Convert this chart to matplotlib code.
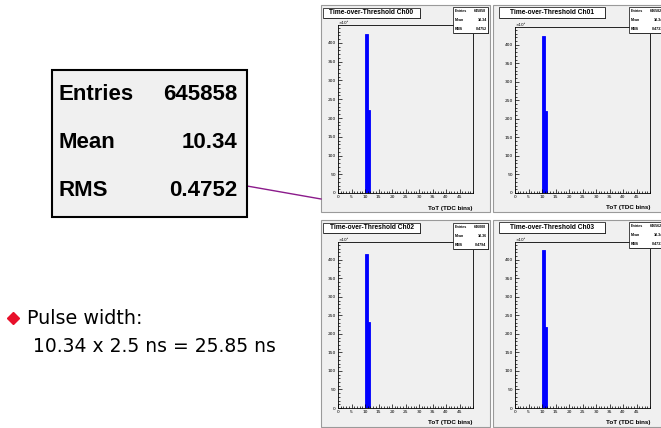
import matplotlib.pyplot as plt
from matplotlib.patches import Rectangle
from matplotlib.lines import Line2D
from matplotlib.ticker import MultipleLocator

# data (counts in units of 10^3)
channels = ["Ch00", "Ch01", "Ch02", "Ch03"]
tot_bins = [10, 11]
counts = {
    "Ch00": [425, 222],
    "Ch01": [425, 222],
    "Ch02": [415, 231],
    "Ch03": [427, 219],
}
entries = [645858, 646582, 646008, 646562]
means = [10.34, 10.34, 10.36, 10.34]
rms = [0.4752, 0.4737, 0.4794, 0.4737]

x_range = (0, 50)
y_range = (0, 448)

W, H = 661, 428
PAD_GRAY = "#f0f0f0"


def box(x0, y0, x1, y1):
    """pixel box (top-left origin) -> figure fraction [l, b, w, h]"""
    return [x0 / W, 1 - y1 / H, (x1 - x0) / W, (y1 - y0) / H]


def fig_rect(fig, x0, y0, x1, y1, **kw):
    l, b, w, h = box(x0, y0, x1, y1)
    r = Rectangle((l, b), w, h, transform=fig.transFigure, **kw)
    fig.patches.append(r)
    return r


fig = plt.figure(figsize=(W / 100, H / 100), dpi=100)
fig.patch.set_facecolor("white")

# pad / frame geometry in pixels
pads = [(321, 5, 490, 212), (493, 5, 664, 212), (321, 220, 490, 427), (493, 220, 664, 427)]
frames = [(338, 25, 473, 193), (515, 27, 650, 193), (338, 242, 473, 408), (515, 242, 650, 408)]
titles = [(323, 8, 420, 18), (499, 7, 605, 18), (323, 223, 420, 233), (499, 222, 605, 233)]
statboxes = [(453, 7, 488, 33), (629, 7, 664, 33), (453, 223, 488, 249), (629, 222, 664, 248)]

for i, ch in enumerate(channels):
    fig_rect(fig, *pads[i], facecolor=PAD_GRAY, edgecolor="#9a9a9a", lw=0.8, zorder=-2)

    ax = fig.add_axes(box(*frames[i]))
    ax.set_facecolor(PAD_GRAY)
    ax.bar(tot_bins, counts[ch], width=1, align="edge", color="#0000ff",
           edgecolor="#0000ff", lw=0.6)
    ax.set_xlim(*x_range)
    ax.set_ylim(*y_range)
    ax.xaxis.set_major_locator(MultipleLocator(5))
    ax.xaxis.set_minor_locator(MultipleLocator(1))
    ax.yaxis.set_major_locator(MultipleLocator(50))
    ax.yaxis.set_minor_locator(MultipleLocator(10))
    ax.tick_params(which="both", direction="in", width=0.5, labelsize=3.2, pad=1.5)
    ax.tick_params(which="major", length=3)
    ax.tick_params(which="minor", length=1.5)
    ax.set_xticks(range(0, 50, 5))
    for sp in ax.spines.values():
        sp.set_linewidth(0.6)
    ax.text(0.0, 1.0, "×10³", transform=ax.transAxes, fontsize=3.0,
            ha="left", va="bottom")
    ax.text(1.0, -0.075, "ToT (TDC bins)", transform=ax.transAxes, fontsize=4.5,
            fontweight="bold", ha="right", va="top", family="Liberation Sans")

    # title box with shadow
    tx0, ty0, tx1, ty1 = titles[i]
    fig_rect(fig, tx0 + 1.2, ty0 + 1.2, tx1 + 1.2, ty1 + 1.2, facecolor="#404040", lw=0, zorder=5)
    fig_rect(fig, *titles[i], facecolor="white", edgecolor="black", lw=0.5, zorder=6)
    fig.text((tx0 + tx1) / 2 / W, 1 - (ty0 + ty1) / 2 / H, "Time-over-Threshold " + ch,
             ha="center", va="center", fontsize=4.8, fontweight="bold",
             family="Liberation Sans", zorder=7)

    # stats box with shadow
    sx0, sy0, sx1, sy1 = statboxes[i]
    fig_rect(fig, sx0 + 1.2, sy0 + 1.2, sx1 + 1.2, sy1 + 1.2, facecolor="#404040", lw=0, zorder=5)
    fig_rect(fig, *statboxes[i], facecolor="white", edgecolor="black", lw=0.5, zorder=6)
    rows = [("Entries", f"{entries[i]}"), ("Mean", f"{means[i]:.2f}"), ("RMS", f"{rms[i]:.4f}")]
    rh = (sy1 - sy0) / 3
    for k, (name, val) in enumerate(rows):
        yc = 1 - (sy0 + rh * (k + 0.5)) / H
        fig.text((sx0 + 2) / W, yc, name, ha="left", va="center", fontsize=2.6,
                 fontweight="bold", family="Liberation Sans", zorder=7)
        fig.text((sx1 - 1.5) / W, yc, val, ha="right", va="center", fontsize=2.6,
                 fontweight="bold", family="Liberation Sans", zorder=7)

# enlarged stats box of Ch00
fig_rect(fig, 52, 70, 247, 217, facecolor=PAD_GRAY, edgecolor="black", lw=1.5, zorder=3)
big_rows = [("Entries", f"{entries[0]}"), ("Mean", f"{means[0]:.2f}"), ("RMS", f"{rms[0]:.4f}")]
for k, (name, val) in enumerate(big_rows):
    yc = 1 - (95 + 48 * k) / H
    fig.text(59 / W, yc, name, ha="left", va="center", fontsize=16, fontweight="bold",
             family="Liberation Sans", zorder=4)
    fig.text(237 / W, yc, val, ha="right", va="center", fontsize=16, fontweight="bold",
             family="Liberation Sans", zorder=4)

# connector line to the Ch00 pad
fig.lines.append(Line2D([247 / W, 321 / W], [1 - 186 / H, 1 - 199 / H],
                        transform=fig.transFigure, color="#8b1a8b", lw=1.0))

# bullet note
fig.lines.append(Line2D([13 / W], [1 - 318 / H], marker="D", markersize=6,
                        color="#e8102a", lw=0, transform=fig.transFigure))
fig.text(27 / W, 1 - 318 / H, "Pulse width:", ha="left", va="center", fontsize=13.8)
fig.text(33 / W, 1 - 346 / H, "10.34 x 2.5 ns = 25.85 ns", ha="left", va="center",
         fontsize=13.5)

fig.savefig("out.png", dpi=100)
